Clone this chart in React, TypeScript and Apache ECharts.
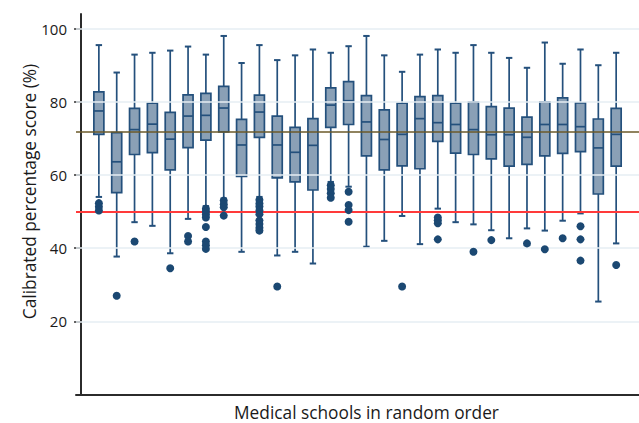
import React, { useEffect, useRef } from "react";
import * as echarts from "echarts";

// School index 1..30 (random order)
const schools = [
  1, 2, 3, 4, 5, 6, 7, 8, 9, 10, 11, 12, 13, 14, 15,
  16, 17, 18, 19, 20, 21, 22, 23, 24, 25, 26, 27, 28, 29, 30,
];
const whiskerLow = [
  54.0, 37.7, 47.1, 46.1, 38.6, 48.0, 51.5, 53.6, 39.0, 54.0, 38.0, 39.0, 35.8, 58.1, 56.8,
  40.4, 42.0, 48.8, 41.1, 50.8, 47.1, 46.5, 44.9, 42.7, 45.4, 44.8, 47.5, 49.5, 25.4, 41.3,
];
const q1 = [
  71.1, 55.2, 65.6, 66.1, 61.4, 67.5, 69.5, 71.8, 59.6, 70.3, 59.2, 58.1, 55.9, 73.0, 73.8,
  65.2, 61.4, 62.5, 61.7, 69.2, 66.0, 65.6, 64.4, 62.4, 62.9, 65.2, 65.9, 66.4, 54.8, 62.4,
];
const medians = [
  77.5, 63.6, 72.4, 73.9, 69.8, 76.1, 76.3, 78.3, 68.2, 77.2, 68.2, 66.2, 68.1, 79.1, 80.3,
  74.5, 69.7, 71.1, 75.4, 74.3, 73.8, 72.4, 71.0, 71.0, 70.3, 73.8, 73.8, 73.2, 67.4, 71.1,
];
const q3 = [
  82.7, 71.6, 78.2, 79.6, 77.1, 81.9, 82.3, 84.2, 75.2, 81.8, 76.1, 73.0, 75.4, 83.8, 85.5,
  81.7, 77.8, 79.6, 81.4, 81.7, 79.6, 79.9, 78.7, 78.3, 75.8, 80.0, 81.1, 79.7, 75.3, 78.2,
];
const whiskerHigh = [
  95.5, 88.0, 92.9, 93.4, 94.0, 95.1, 92.9, 98.0, 90.6, 95.5, 91.4, 92.7, 94.3, 93.4, 95.2,
  98.0, 92.7, 88.2, 92.9, 94.3, 93.4, 95.5, 93.4, 92.0, 89.3, 96.2, 90.4, 94.3, 90.0, 93.4,
];
// Outliers per school
const outliers: number[][] = [
  [52.3, 51.3, 50.3],
  [27.0],
  [41.8],
  [],
  [34.5],
  [43.3, 41.8],
  [50.8, 50.0, 49.2, 48.4, 45.8, 41.8, 40.8, 39.8],
  [53.0, 52.0, 51.2, 48.9],
  [],
  [53.2, 52.2, 51.4, 50.3, 49.3, 47.6, 46.6, 45.6, 44.8],
  [29.5],
  [],
  [],
  [57.2, 56.2, 55.0, 53.8],
  [55.4, 51.8, 50.4, 47.2],
  [],
  [],
  [29.5],
  [],
  [48.4, 47.6, 46.8, 42.4],
  [],
  [39.0],
  [42.2],
  [],
  [41.3],
  [39.7],
  [42.7],
  [46.0, 42.4, 36.6],
  [],
  [35.4],
];
const yTickValues = [20, 40, 60, 80, 100];
const overallMean = 71.7;
const passMark = 50;
const xTitle = "Medical schools in random order";
const yTitle = "Calibrated percentage score (%)";

const BOX_FILL = "#8aa0b6";
const BOX_LINE = "#24507c";
const DOT = "#1b4872";
const FONT = "Open Sans";

export default function App() {
  const ref = useRef<HTMLDivElement>(null);
  useEffect(() => {
    if (!ref.current) return;
    const chart = echarts.init(ref.current, null, { renderer: "svg" });
    const boxData = schools.map((s, i) => [
      s,
      whiskerLow[i],
      q1[i],
      medians[i],
      q3[i],
      whiskerHigh[i],
    ]);
    const outlierData: number[][] = [];
    schools.forEach((s, i) => outliers[i].forEach((v) => outlierData.push([s, v])));

    chart.setOption({
      animation: false,
      backgroundColor: "#ffffff",
      grid: { left: 76, right: -11, top: 14, bottom: 28.5 },
      graphic: [
        {
          type: "text",
          x: 366.5,
          y: 412,
          style: {
            text: xTitle,
            fontFamily: FONT,
            fontSize: 17.3,
            fill: "#1a1a1a",
            textAlign: "center",
            textVerticalAlign: "middle",
          },
        },
        {
          type: "text",
          x: 29,
          y: 191.5,
          rotation: Math.PI / 2,
          style: {
            text: yTitle,
            fontFamily: FONT,
            fontSize: 17.3,
            fill: "#1a1a1a",
            textAlign: "center",
            textVerticalAlign: "middle",
          },
        },
      ],
      xAxis: {
        type: "value",
        min: -0.282,
        max: 31.28,
        axisLine: { show: true, onZero: false, lineStyle: { color: "#2b2b2b", width: 2 } },
        axisTick: { show: false },
        axisLabel: { show: false },
        splitLine: { show: false },
      },
      yAxis: {
        type: "value",
        min: 0,
        max: 104,
        axisLine: { show: true, lineStyle: { color: "#2b2b2b", width: 2 } },
        axisTick: {
          show: true,
          length: 7,
          customValues: yTickValues,
          lineStyle: { color: "#2b2b2b", width: 1.5 },
        },
        axisLabel: {
          customValues: yTickValues,
          margin: 9,
          fontFamily: FONT,
          fontSize: 15,
          color: "#1a1a1a",
        },
        splitLine: { show: false },
      },
      series: [
        {
          type: "line",
          data: [],
          silent: true,
          markLine: {
            silent: true,
            symbol: "none",
            label: { show: false },
            lineStyle: { color: "#e6eef3", width: 1.5, type: "solid" },
            data: yTickValues.map((v) => ({ yAxis: v })),
          },
        },
        {
          type: "line",
          data: [],
          silent: true,
          z: 3,
          markLine: {
            silent: true,
            symbol: "none",
            label: { show: false },
            data: [
              { yAxis: overallMean, lineStyle: { color: "#6b5a2a", width: 1.6, type: "solid" } },
              { yAxis: passMark, lineStyle: { color: "#ff3a3a", width: 2, type: "solid" } },
            ],
          },
        },
        {
          type: "custom",
          z: 4,
          data: boxData,
          renderItem: (params: any, api: any) => {
            const x = api.value(0);
            const lo = api.coord([x, api.value(1)]);
            const b1 = api.coord([x, api.value(2)]);
            const md = api.coord([x, api.value(3)]);
            const b3 = api.coord([x, api.value(4)]);
            const hi = api.coord([x, api.value(5)]);
            const cx = lo[0];
            const hw = 5;
            const cw = 3.2;
            const ls = { stroke: BOX_LINE, lineWidth: 1.7 };
            return {
              type: "group",
              children: [
                { type: "line", shape: { x1: cx, y1: b3[1], x2: cx, y2: hi[1] }, style: ls },
                { type: "line", shape: { x1: cx, y1: b1[1], x2: cx, y2: lo[1] }, style: ls },
                { type: "line", shape: { x1: cx - cw, y1: hi[1], x2: cx + cw, y2: hi[1] }, style: { stroke: BOX_LINE, lineWidth: 2 } },
                { type: "line", shape: { x1: cx - cw, y1: lo[1], x2: cx + cw, y2: lo[1] }, style: { stroke: BOX_LINE, lineWidth: 2 } },
                {
                  type: "rect",
                  shape: { x: cx - hw, y: b3[1], width: hw * 2, height: b1[1] - b3[1] },
                  style: { fill: BOX_FILL, stroke: BOX_LINE, lineWidth: 1.7 },
                },
                { type: "line", shape: { x1: cx - hw, y1: md[1], x2: cx + hw, y2: md[1] }, style: ls },
              ],
            };
          },
        },
        {
          type: "scatter",
          z: 5,
          data: outlierData,
          symbol: "circle",
          symbolSize: 8,
          itemStyle: { color: DOT, opacity: 1 },
        },
      ],
    });
    return () => chart.dispose();
  }, []);
  return (
    <div
      ref={ref}
      style={{ position: "fixed", left: 0, top: 0, width: 639, height: 423, background: "#fff" }}
    />
  );
}
